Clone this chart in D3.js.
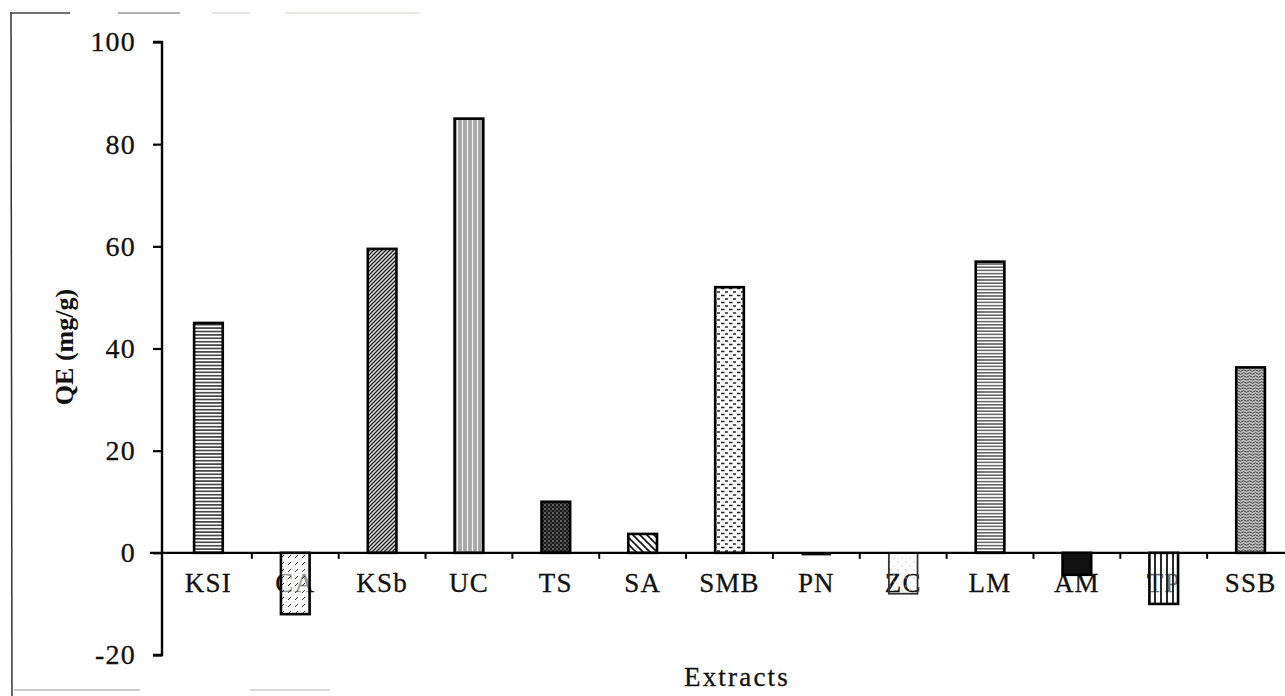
<!DOCTYPE html>
<html>
<head>
<meta charset="utf-8">
<script src="https://cdn.jsdelivr.net/npm/d3@7/dist/d3.min.js"></script>
<style>
  html, body { margin: 0; padding: 0; background: #fff; }
  svg { display: block; }
</style>
</head>
<body>
<svg id="chart" width="1285" height="696"></svg>
<script>
// ---- data ----
const categories = ["KSI", "CA", "KSb", "UC", "TS", "SA", "SMB", "PN", "ZC", "LM", "AM", "TP", "SSB"];
const values = [45, -12, 59.5, 85, 10, 3.7, 52, -0.4, -8, 57, -4.3, -10, 36.3];
const patternIds = ["hl", "ca", "diag", "vgray", "cross", "sa", "dash", "none", "dots", "hl2", "solid", "vl", "wave"];
const yTicks = [-20, 0, 20, 40, 60, 80, 100];
const yTitle = "QE (mg/g)";
const xTitle = "Extracts";

const FONT = "'Liberation Serif', 'DejaVu Serif', serif";
const svg = d3.select("#chart");
const defs = svg.append("defs");

function pat(id, w, h, draw, bg, bgOpacity) {
  const p = defs.append("pattern").attr("id", id).attr("patternUnits", "userSpaceOnUse")
    .attr("width", w).attr("height", h);
  p.append("rect").attr("width", w).attr("height", h).attr("fill", bg || "#fff")
    .attr("fill-opacity", bgOpacity == null ? 1 : bgOpacity);
  draw(p);
}
pat("hl", 6, 3.4, p => p.append("line").attr("x1", 0).attr("x2", 6).attr("y1", 1.7).attr("y2", 1.7).attr("stroke", "#111").attr("stroke-width", 1.3));
pat("hl2", 6, 3.2, p => p.append("line").attr("x1", 0).attr("x2", 6).attr("y1", 1.6).attr("y2", 1.6).attr("stroke", "#222").attr("stroke-width", 1.1));
pat("ca", 7, 7, p => {
  p.append("line").attr("x1", 1).attr("y1", 5).attr("x2", 4).attr("y2", 2).attr("stroke", "#333").attr("stroke-width", 1);
}, "#fff", 0.55);
pat("diag", 4, 4, p => {
  p.append("path").attr("d", "M-1,1 L1,-1 M0,4 L4,0 M3,5 L5,3").attr("stroke", "#222").attr("stroke-width", 1.3);
}, "#ddd");
pat("vgray", 5, 10, p => {
  p.append("line").attr("x1", 2.5).attr("x2", 2.5).attr("y1", 0).attr("y2", 10).attr("stroke", "#f2f2f2").attr("stroke-width", 1.2);
}, "#a8a8a8");
pat("cross", 4, 4, p => {
  p.append("circle").attr("cx", 1).attr("cy", 1).attr("r", 0.8).attr("fill", "#bbb");
  p.append("circle").attr("cx", 3).attr("cy", 3).attr("r", 0.7).attr("fill", "#888");
}, "#1a1a1a");
pat("sa", 7, 7, p => {
  p.append("path").attr("d", "M-1,-1 L8,8 M-1,6 L1,8 M6,-1 L8,1").attr("stroke", "#111").attr("stroke-width", 1.6);
});
pat("dash", 8, 7, p => {
  p.append("line").attr("x1", 1).attr("x2", 4.5).attr("y1", 1.5).attr("y2", 1.5).attr("stroke", "#222").attr("stroke-width", 1.5);
  p.append("line").attr("x1", 5).attr("x2", 8.5).attr("y1", 5).attr("y2", 5).attr("stroke", "#222").attr("stroke-width", 1.5);
});
pat("dots", 8, 8, p => {
  p.append("circle").attr("cx", 2).attr("cy", 2).attr("r", 0.7).attr("fill", "#bbb");
  p.append("circle").attr("cx", 6).attr("cy", 6).attr("r", 0.7).attr("fill", "#ccc");
}, "#fff", 0);
pat("vl", 6, 10, p => p.append("line").attr("x1", 3).attr("x2", 3).attr("y1", 0).attr("y2", 10).attr("stroke", "#111").attr("stroke-width", 1.8), "#fff", 0.4);
pat("wave", 6, 6, p => {
  p.append("path").attr("d", "M0,1.5 Q1.5,0 3,1.5 T6,1.5 M0,4.5 Q1.5,3 3,4.5 T6,4.5").attr("fill", "none").attr("stroke", "#444").attr("stroke-width", 1);
}, "#bdbdbd");

// ---- scan frame ----
svg.append("line").attr("x1", 11).attr("x2", 12).attr("y1", 12).attr("y2", 696).attr("stroke", "#333").attr("stroke-width", 1.5);
svg.append("line").attr("x1", 11).attr("x2", 70).attr("y1", 13).attr("y2", 13).attr("stroke", "#444").attr("stroke-width", 1.5);
svg.append("line").attr("x1", 118).attr("x2", 180).attr("y1", 13).attr("y2", 13).attr("stroke", "#999").attr("stroke-width", 1.5);
svg.append("line").attr("x1", 212).attr("x2", 250).attr("y1", 13).attr("y2", 13).attr("stroke", "#ddd").attr("stroke-width", 1.5);
svg.append("line").attr("x1", 285).attr("x2", 420).attr("y1", 13).attr("y2", 13).attr("stroke", "#e3e3d8").attr("stroke-width", 1.5);
svg.append("line").attr("x1", 14).attr("x2", 140).attr("y1", 690).attr("y2", 690).attr("stroke", "#bbb").attr("stroke-width", 1.5);
svg.append("line").attr("x1", 250).attr("x2", 330).attr("y1", 690).attr("y2", 690).attr("stroke", "#ccc").attr("stroke-width", 1.5);

// ---- scales ----
const y = d3.scaleLinear().domain([-20, 100]).range([655, 42]);
const x = d3.scaleBand().domain(categories).range([165, 1294]).padding(0);
const barW = x.bandwidth() * 0.33;
const axisX0 = 162;

// category labels (drawn under the bars, as in the original)
svg.append("g").selectAll("text").data(categories).join("text")
  .attr("x", d => x(d) + x.bandwidth() / 2)
  .attr("y", y(0) + 39)
  .attr("text-anchor", "middle")
  .attr("font-family", FONT)
  .attr("font-size", 27)
  .attr("letter-spacing", 1.2)
  .attr("fill", "#111").attr("stroke", "#111").attr("stroke-width", 0.3)
  .text(d => d);

// bars
svg.append("g").selectAll("rect").data(categories).join("rect")
  .attr("x", d => x(d) + (x.bandwidth() - barW) / 2)
  .attr("width", barW)
  .attr("y", (d, i) => y(Math.max(0, values[i])))
  .attr("height", (d, i) => Math.abs(y(values[i]) - y(0)))
  .attr("fill", (d, i) => (patternIds[i] === "solid" || patternIds[i] === "none") ? "#111" : `url(#${patternIds[i]})`)
  .attr("stroke", (d, i) => patternIds[i] === "dots" ? "#333" : "#000")
  .attr("stroke-width", (d, i) => patternIds[i] === "none" ? 1 : (patternIds[i] === "dots" ? 1.8 : 2.6));

// x axis line
svg.append("line").attr("x1", axisX0 - 12).attr("x2", 1285).attr("y1", y(0)).attr("y2", y(0))
  .attr("stroke", "#000").attr("stroke-width", 2.2);
svg.append("g").selectAll("line").data(categories.slice(1)).join("line")
  .attr("x1", d => x(d)).attr("x2", d => x(d))
  .attr("y1", y(0)).attr("y2", y(0) + 6)
  .attr("stroke", "#000").attr("stroke-width", 2);

// y axis
const yAxis = d3.axisLeft(y).tickValues(yTicks).tickSize(9).tickPadding(17)
  .tickFormat(d => String(d));
const gy = svg.append("g").attr("transform", `translate(${axisX0},0)`).call(yAxis);
gy.select(".domain").attr("stroke", "#000").attr("stroke-width", 2.4).attr("d", `M-9,${y(100)}H0V${y(-20)}H-9`);
gy.selectAll(".tick line").attr("stroke", "#000").attr("stroke-width", 2.2);
gy.selectAll(".tick text")
  .attr("font-family", FONT)
  .attr("font-size", 28)
  .attr("letter-spacing", 1.2)
  .attr("fill", "#111").attr("stroke", "#111").attr("stroke-width", 0.3);

// titles
svg.append("text")
  .attr("transform", `translate(73,347) rotate(-90)`)
  .attr("text-anchor", "middle")
  .attr("font-family", FONT)
  .attr("font-weight", "bold")
  .attr("font-size", 26)
  .attr("fill", "#111")
  .text(yTitle);
svg.append("text")
  .attr("x", 737).attr("y", 686)
  .attr("text-anchor", "middle")
  .attr("font-family", FONT)
  .attr("font-size", 27)
  .attr("letter-spacing", 2.2)
  .attr("fill", "#111").attr("stroke", "#111").attr("stroke-width", 0.3)
  .text(xTitle);
</script>
</body>
</html>
